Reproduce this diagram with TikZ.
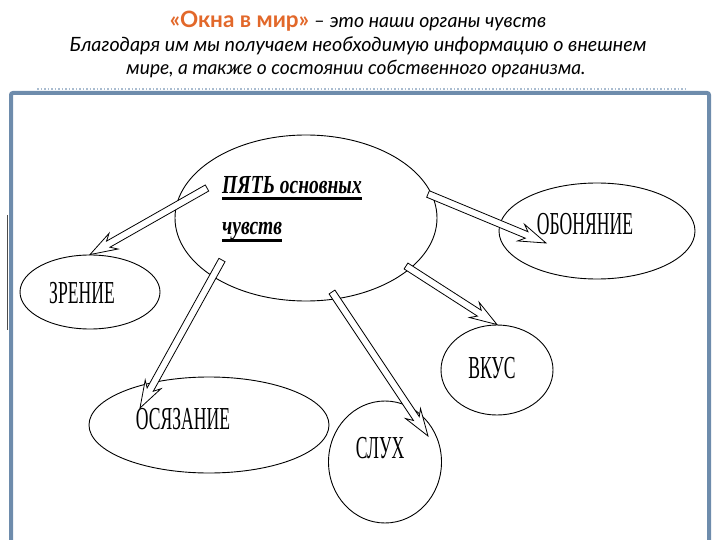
\documentclass[tikz,border=0pt]{standalone}
\usepackage{fontspec}
\setmainfont{Lato}
\newfontfamily\sensefont[FakeStretch=0.55]{Liberation Serif}
\newfontfamily\headfont[FakeStretch=0.75]{Liberation Serif}
\usetikzlibrary{shapes.geometric,calc}

\definecolor{titleorange}{HTML}{E2682A}
\definecolor{frameblue}{HTML}{6E8CAC}
\definecolor{dotblue}{HTML}{A9BCD0}

\tikzset{
  sense/.style={draw=black, line width=0.9pt, ellipse, inner sep=0pt},
  sensetext/.style={font=\sensefont\fontsize{32}{32}\selectfont, inner sep=0pt},
  headtext/.style={font=\headfont\bfseries\itshape\fontsize{26}{26}\selectfont, inner sep=0pt, anchor=base west},
  arrowbody/.style={draw=black, line width=0.8pt, fill=white, line join=miter}
}

% hollow block arrow from #1 to #2
\newcommand{\blockarrow}[2]{%
  \coordinate (ah) at ($(#2)!21pt!(#1)$);
  \coordinate (ab) at ($(#2)!27pt!(#1)$);
  \draw[arrowbody] ($(#1)!3.5pt!90:(#2)$) -- ($(ah)!3.5pt!90:(#2)$)
    -- ($(ab)!9pt!90:(#2)$) -- (#2) -- ($(ab)!9pt!-90:(#2)$)
    -- ($(ah)!3.5pt!-90:(#2)$) -- ($(#1)!3.5pt!-90:(#2)$) -- cycle;
}

\begin{document}
\begin{tikzpicture}[x=1pt, y=-1pt]
  \useasboundingbox (0,0) rectangle (720,540);

  % Title
  \node (t1) at (358,21) {\fontsize{19.5}{19.5}\selectfont\textcolor{titleorange}{\fontsize{22.5}{22.5}\selectfont\bfseries «Окна в мир»} \itshape – это наши органы чувств};
  \node (t2) at (358,46) {\fontsize{19.7}{19.7}\selectfont\itshape Благодаря им мы получаем необходимую информацию о внешнем};
  \node (t3) at (356,69) {\fontsize{19.2}{19.2}\selectfont\itshape мире, а также о состоянии собственного организма.};

  % Frame
  \draw[dotblue, line width=1.5pt, dotted] (37,89) -- (688,89);
  \draw[frameblue, line width=4pt, rounded corners=2pt] (11,545) -- (11,93) -- (709,93) -- (709,545);
  \draw[black!70, line width=1pt] (7,215) -- (7,330);

  % Root node
  \node[sense, minimum width=262, minimum height=166] (root) at (306,218) {};
  \node[headtext] (h1) at (222,194) {ПЯТЬ основных};
  \node[headtext] (h2) at (222,235) {чувств};
  \draw[line width=2.5pt] ([yshift=-4.5pt]h1.base west) -- ([yshift=-4.5pt]h1.base east);
  \draw[line width=2.5pt] ([yshift=-5.5pt]h2.base west) -- ([yshift=-5.5pt]h2.base east);

  % Senses
  \node[sense, minimum width=140, minimum height=74] (zr) at (90,292) {};
  \node[sensetext] at (82,293) {ЗРЕНИЕ};

  \node[sense, minimum width=196, minimum height=96] (ob) at (597,231) {};
  \node[sensetext] at (585,224) {ОБОНЯНИЕ};

  \node[sense, minimum width=112, minimum height=90] (vk) at (497,370) {};
  \node[sensetext] at (492,368) {ВКУС};

  \node[sense, minimum width=240, minimum height=96] (os) at (209,425) {};
  \node[sensetext] at (183,419) {ОСЯЗАНИЕ};

  \node[sense, minimum width=113, minimum height=122] (sl) at (385,462) {};
  \node[sensetext] at (380,448) {СЛУХ};

  % Arrows
  \coordinate (a-zr) at (207,188);
  \coordinate (a-ob) at (428,194);
  \coordinate (b-ob) at (546,243);
  \coordinate (a-vk) at (406,266);
  \coordinate (a-os) at (222,260);
  \coordinate (b-os) at (140,408);
  \coordinate (a-sl) at (332,292);
  \coordinate (b-sl) at (428,436);
  \blockarrow{a-zr}{zr.north}
  \blockarrow{a-ob}{b-ob}
  \blockarrow{a-vk}{vk.north}
  \blockarrow{a-os}{b-os}
  \blockarrow{a-sl}{b-sl}
\end{tikzpicture}
\end{document}
